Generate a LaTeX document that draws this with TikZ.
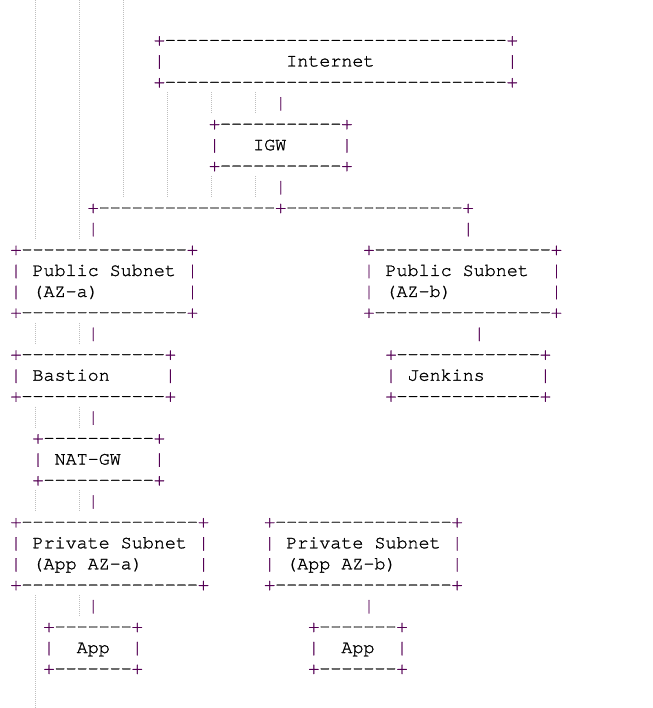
\documentclass[tikz,border=0pt]{standalone}
\usepackage{fontspec}
\setmonofont[FakeBold=1.2]{TeX Gyre Cursor}
\definecolor{pur}{RGB}{84,0,84}
\definecolor{guidegray}{RGB}{190,190,190}
\newcommand\ascfont{\ttfamily\fontsize{18.38}{21}\selectfont}
\newcommand\pl{\textcolor{pur}{+}}
\newcommand\vb{\textcolor{pur}{|}}
% place text at column #2, row #3 (name #1)
\newcommand\A[4]{\node[asc] (#1) at ({10.5+11.03*(#2)},{45.5+20.95*(#3)}) {#4};}
\tikzset{
  asc/.style={anchor=base west, inner sep=0pt, outer sep=0pt, font=\ascfont, text=black},
  guide/.style={draw=guidegray, line width=1pt, dash pattern=on 1pt off 1pt}
}
\begin{document}
\begin{tikzpicture}[x=1pt,y=-1pt]
\useasboundingbox (0,0) rectangle (652,708);
% indent guides
\draw[guide] (35.5,0) -- (35.5,239);
\draw[guide] (35.5,322.8) -- (35.5,343.8);
\draw[guide] (35.5,406.6) -- (35.5,427.6);
\draw[guide] (35.5,490.4) -- (35.5,511.3);
\draw[guide] (35.5,595.2) -- (35.5,708);
\draw[guide] (79.5,0) -- (79.5,239);
\draw[guide] (79.5,322.8) -- (79.5,343.8);
\draw[guide] (79.5,406.6) -- (79.5,427.6);
\draw[guide] (79.5,490.4) -- (79.5,511.3);
\draw[guide] (79.5,595.2) -- (79.5,616.2);
\draw[guide] (123.5,0) -- (123.5,197.1);
\draw[guide] (167.5,92.35) -- (167.5,197.1);
\draw[guide] (211.5,92.35) -- (211.5,113.3);
\draw[guide] (211.5,176.15) -- (211.5,197.1);
\draw[guide] (255.5,92.35) -- (255.5,113.3);
\draw[guide] (255.5,176.15) -- (255.5,197.1);
% Internet
\A{inetT}{13}{0}{\pl-------------------------------\pl}
\A{inetL}{13}{1}{\vb}
\A{inet}{25}{1}{Internet}
\A{inetR}{45}{1}{\vb}
\A{inetB}{13}{2}{\pl-------------------------------\pl}
\A{c1}{24}{3}{\vb}
% IGW
\A{igwT}{18}{4}{\pl-----------\pl}
\A{igwL}{18}{5}{\vb}
\A{igw}{22}{5}{IGW}
\A{igwR}{30}{5}{\vb}
\A{igwB}{18}{6}{\pl-----------\pl}
\A{c2}{24}{7}{\vb}
% split
\A{split}{7}{8}{\pl----------------\pl----------------\pl}
\A{c3}{7}{9}{\vb}
\A{c4}{41}{9}{\vb}
% Public subnets
\A{puaT}{0}{10}{\pl---------------\pl}
\A{pubT}{32}{10}{\pl----------------\pl}
\A{puaL1}{0}{11}{\vb}
\A{pua1}{2}{11}{Public Subnet}
\A{puaR1}{16}{11}{\vb}
\A{pubL1}{32}{11}{\vb}
\A{pub1}{34}{11}{Public Subnet}
\A{pubR1}{49}{11}{\vb}
\A{puaL2}{0}{12}{\vb}
\A{pua2}{2}{12}{(AZ-a)}
\A{puaR2}{16}{12}{\vb}
\A{pubL2}{32}{12}{\vb}
\A{pub2}{34}{12}{(AZ-b)}
\A{pubR2}{49}{12}{\vb}
\A{puaB}{0}{13}{\pl---------------\pl}
\A{pubB}{32}{13}{\pl----------------\pl}
\A{c5}{7}{14}{\vb}
\A{c6}{42}{14}{\vb}
% Bastion / Jenkins
\A{basT}{0}{15}{\pl-------------\pl}
\A{jenT}{34}{15}{\pl-------------\pl}
\A{basL}{0}{16}{\vb}
\A{bas}{2}{16}{Bastion}
\A{basR}{14}{16}{\vb}
\A{jenL}{34}{16}{\vb}
\A{jen}{36}{16}{Jenkins}
\A{jenR}{48}{16}{\vb}
\A{basB}{0}{17}{\pl-------------\pl}
\A{jenB}{34}{17}{\pl-------------\pl}
\A{c7}{7}{18}{\vb}
% NAT-GW
\A{natT}{2}{19}{\pl----------\pl}
\A{natL}{2}{20}{\vb}
\A{nat}{4}{20}{NAT-GW}
\A{natR}{13}{20}{\vb}
\A{natB}{2}{21}{\pl----------\pl}
\A{c8}{7}{22}{\vb}
% Private subnets
\A{praT}{0}{23}{\pl----------------\pl}
\A{prbT}{23}{23}{\pl----------------\pl}
\A{praL1}{0}{24}{\vb}
\A{pra1}{2}{24}{Private Subnet}
\A{praR1}{17}{24}{\vb}
\A{prbL1}{23}{24}{\vb}
\A{prb1}{25}{24}{Private Subnet}
\A{prbR1}{40}{24}{\vb}
\A{praL2}{0}{25}{\vb}
\A{pra2}{2}{25}{(App AZ-a)}
\A{praR2}{17}{25}{\vb}
\A{prbL2}{23}{25}{\vb}
\A{prb2}{25}{25}{(App AZ-b)}
\A{prbR2}{40}{25}{\vb}
\A{praB}{0}{26}{\pl----------------\pl}
\A{prbB}{23}{26}{\pl----------------\pl}
\A{c9}{7}{27}{\vb}
\A{c10}{32}{27}{\vb}
% Apps
\A{appaT}{3}{28}{\pl-------\pl}
\A{appbT}{27}{28}{\pl-------\pl}
\A{appaL}{3}{29}{\vb}
\A{appa}{6}{29}{App}
\A{appaR}{11}{29}{\vb}
\A{appbL}{27}{29}{\vb}
\A{appb}{30}{29}{App}
\A{appbR}{35}{29}{\vb}
\A{appaB}{3}{30}{\pl-------\pl}
\A{appbB}{27}{30}{\pl-------\pl}
\end{tikzpicture}
\end{document}
